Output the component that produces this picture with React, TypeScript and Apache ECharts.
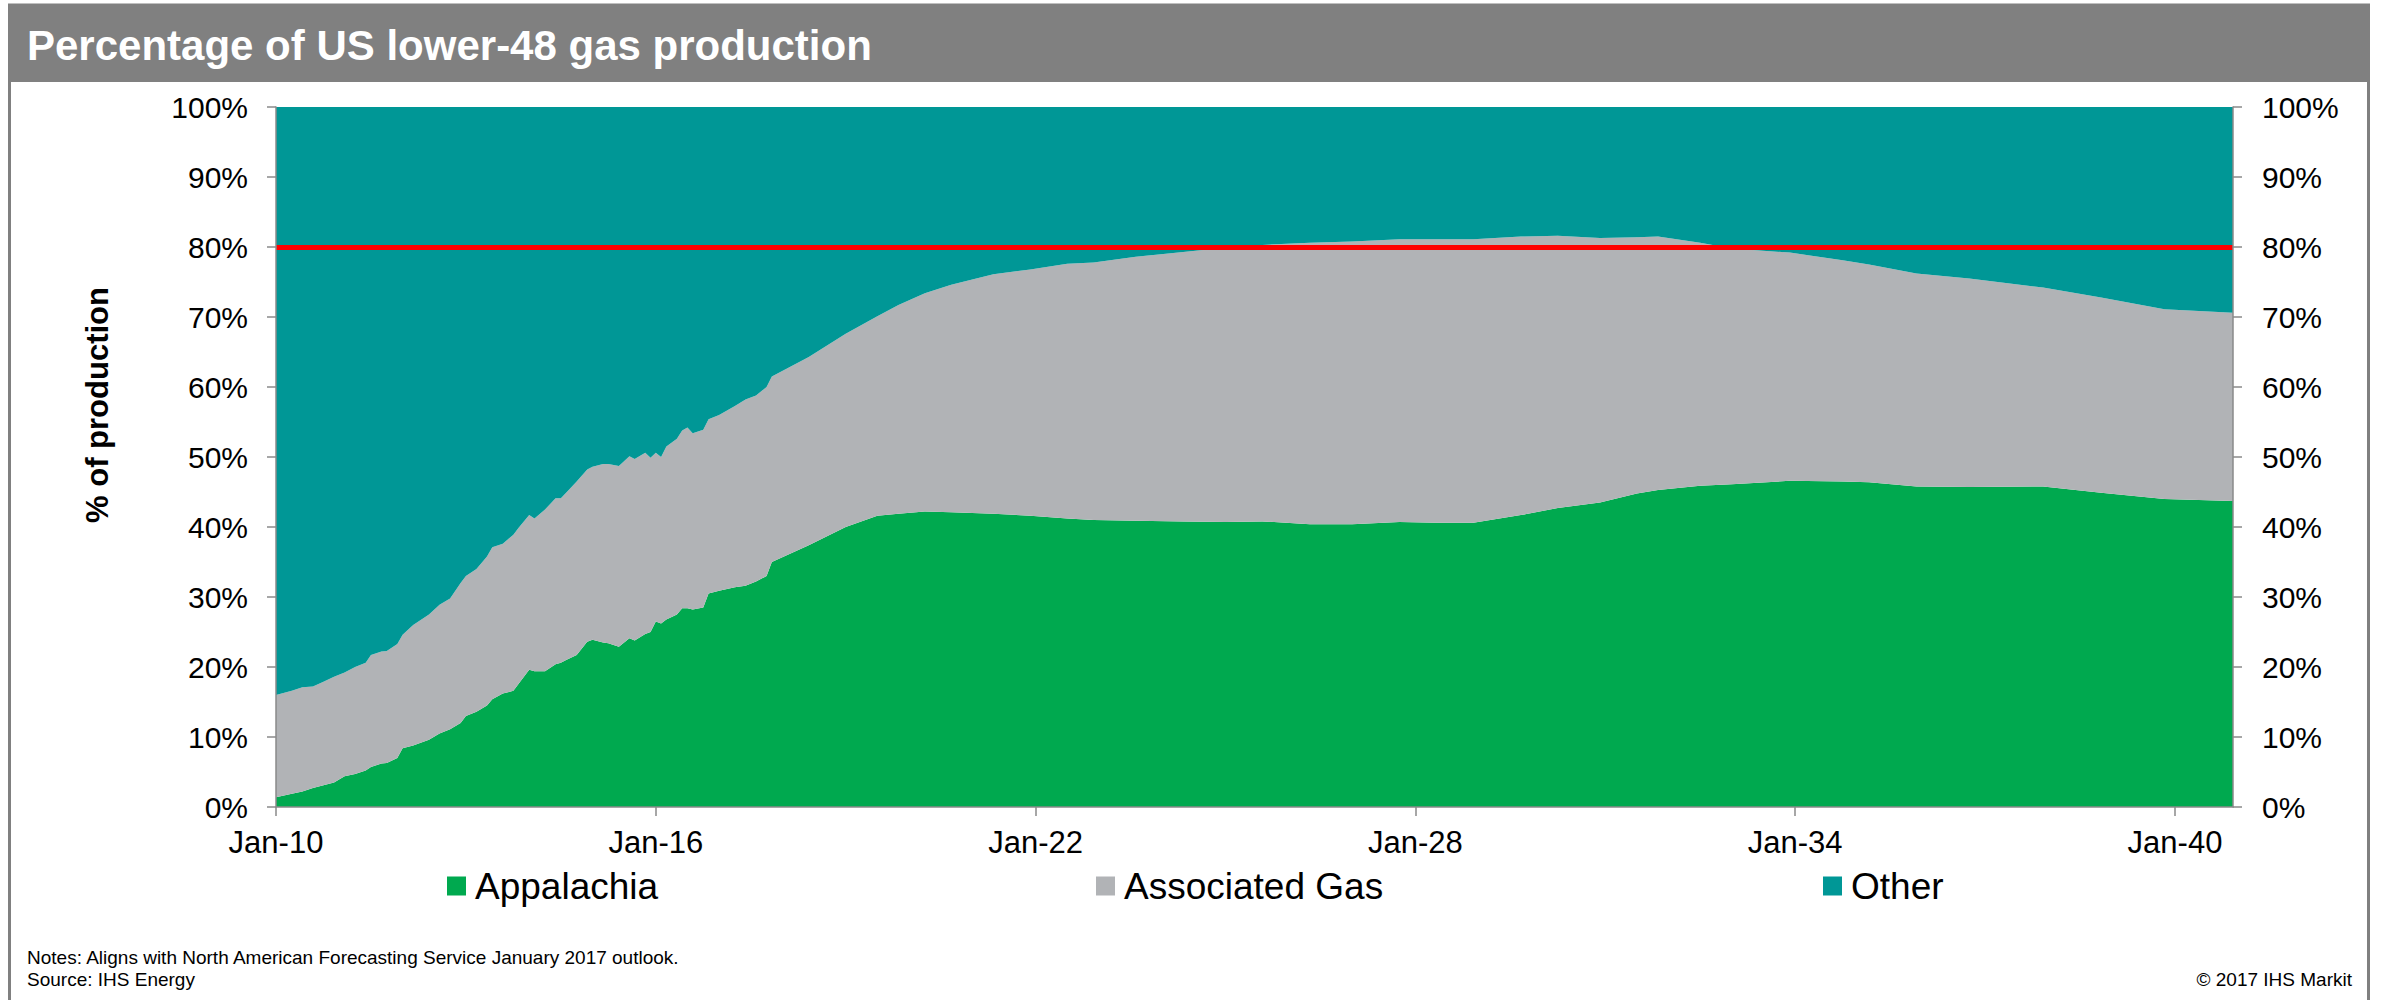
import { useEffect, useRef } from 'react';
import * as echarts from 'echarts';

const FONT = '"Liberation Sans", Arial, Helvetica, sans-serif';

// Months elapsed since Jan 2010 at each sampled point of the forecast
const monthOffsets = [
  0, 3, 5, 7, 9, 11, 13, 15, 17, 18, 20, 21, 23, 24, 26, 29, 31, 33, 35, 36,
  38, 40, 41, 43, 45, 46, 48, 49, 51, 53, 54, 55, 57, 59, 60, 62, 63, 65, 67, 68,
  70, 71, 72, 73, 74, 76, 77, 78, 79, 81, 82, 84, 87, 89, 91, 93, 94, 101, 108, 114,
  118, 123, 128, 136, 143, 150, 155, 163, 172, 180, 187, 196, 204, 213, 220, 227, 236, 243, 251, 258,
  262, 270, 276, 287, 297, 302, 311, 321, 335, 346, 358, 371,
];

// Share of lower-48 production (%) by source
const appalachia = [
  1.4, 1.9, 2.2, 2.7, 3.1, 3.5, 4.4, 4.7, 5.2, 5.7, 6.2, 6.3, 7.0, 8.4, 8.8, 9.6, 10.5, 11.1, 12.0, 13.0,
  13.6, 14.5, 15.4, 16.2, 16.6, 17.6, 19.6, 19.4, 19.4, 20.4, 20.6, 21.0, 21.7, 23.6, 23.9, 23.5, 23.4, 22.9, 24.1, 23.8,
  24.7, 25.0, 26.5, 26.2, 26.8, 27.5, 28.4, 28.4, 28.2, 28.5, 30.5, 30.9, 31.4, 31.6, 32.2, 33.0, 35.0, 37.4, 40.0, 41.6,
  41.9, 42.2, 42.1, 41.9, 41.6, 41.2, 41.0, 40.9, 40.8, 40.7, 40.8, 40.4, 40.4, 40.7, 40.6, 40.6, 41.7, 42.7, 43.5, 44.8,
  45.3, 45.9, 46.1, 46.6, 46.5, 46.4, 45.8, 45.7, 45.8, 44.9, 44.0, 43.7,
];
const associatedGas = [
  14.6, 14.7, 14.9, 14.5, 14.8, 15.1, 14.8, 15.3, 15.4, 16.0, 16.0, 16.0, 16.3, 16.2, 17.2, 17.9, 18.4, 18.7, 20.0, 20.0,
  20.4, 21.3, 21.7, 21.4, 22.3, 22.3, 22.1, 21.8, 23.1, 23.7, 23.5, 23.9, 24.8, 24.6, 24.7, 25.5, 25.6, 25.8, 26.0, 25.9,
  25.9, 24.9, 24.1, 23.8, 24.7, 25.1, 25.4, 25.8, 25.2, 25.4, 24.9, 25.1, 25.9, 26.6, 26.6, 27.0, 26.5, 26.9, 27.6, 28.5,
  29.8, 31.2, 32.5, 34.2, 35.2, 36.4, 36.8, 37.7, 38.5, 39.2, 39.5, 40.2, 40.4, 40.4, 40.5, 40.5, 39.8, 38.9, 37.8, 36.6,
  36.2, 34.7, 33.7, 32.6, 31.6, 31.1, 30.4, 29.8, 28.4, 27.9, 27.1, 26.9,
];
const other = [
  84.0, 83.4, 82.9, 82.8, 82.1, 81.4, 80.8, 80.0, 79.4, 78.3, 77.8, 77.7, 76.7, 75.4, 74.0, 72.5, 71.1, 70.2, 68.0, 67.0,
  66.0, 64.2, 62.9, 62.4, 61.1, 60.1, 58.3, 58.8, 57.5, 55.9, 55.9, 55.1, 53.5, 51.8, 51.4, 51.0, 51.0, 51.3, 49.9, 50.3,
  49.4, 50.1, 49.4, 50.0, 48.5, 47.4, 46.2, 45.8, 46.6, 46.1, 44.6, 44.0, 42.7, 41.8, 41.2, 40.0, 38.5, 35.7, 32.4, 29.9,
  28.3, 26.6, 25.4, 23.9, 23.2, 22.4, 22.2, 21.4, 20.7, 20.1, 19.7, 19.4, 19.2, 18.9, 18.9, 18.9, 18.5, 18.4, 18.7, 18.6,
  18.5, 19.4, 20.2, 20.8, 21.9, 22.5, 23.8, 24.5, 25.8, 27.2, 28.9, 29.4,
];

const seriesNames = ['Appalachia', 'Associated Gas', 'Other'];
const seriesColors = ['#00A94F', '#B1B3B6', '#009796'];

// X axis runs in months since Jan 2010; labelled every six years
const xTickMonths = [0, 72, 144, 216, 288, 360];
const xTickLabels = ['Jan-10', 'Jan-16', 'Jan-22', 'Jan-28', 'Jan-34', 'Jan-40'];
const lastMonth = 371;

const thresholdShare = 80;

const titleText = 'Percentage of US lower-48 gas production';
const yAxisTitle = '% of production';
const noteLines = [
  'Notes: Aligns with North American Forecasting Service January 2017 outlook.',
  'Source: IHS Energy',
];
const copyrightText = '\u00A9 2017 IHS Markit';

const AXIS_GRAY = '#8A8A8A';
const legendLefts = [447, 1096, 1823];

// Rows are [share, month]: the share comes first so the stack runs along y
const toRows = (values: number[]) => monthOffsets.map((m, i) => [values[i], m]);

function buildYAxis(position: 'left' | 'right', margin: number) {
  return {
    type: 'value',
    position,
    min: 0,
    max: 100,
    interval: 10,
    z: 5,
    axisLine: { show: true, lineStyle: { color: AXIS_GRAY, width: 1.5 } },
    axisTick: { show: true, length: 9, lineStyle: { color: AXIS_GRAY, width: 1.5 } },
    axisLabel: {
      formatter: '{value}%',
      fontSize: 30,
      fontFamily: FONT,
      color: '#000',
      margin,
    },
    splitLine: { show: false },
  };
}

export default function App() {
  const ref = useRef<HTMLDivElement>(null);

  useEffect(() => {
    if (!ref.current) return;
    const chart = echarts.init(ref.current, null, { renderer: 'svg' });

    const seriesValues = [appalachia, associatedGas, other];

    const option: any = {
      animation: false,
      backgroundColor: '#fff',
      grid: { left: 276, top: 107, width: 1957, height: 700, outerBoundsMode: 'none' },
      xAxis: {
        type: 'value',
        min: 0,
        max: lastMonth,
        z: 5,
        axisLine: { show: true, lineStyle: { color: AXIS_GRAY, width: 1.5 } },
        axisTick: {
          show: true,
          length: 9,
          customValues: xTickMonths,
          lineStyle: { color: AXIS_GRAY, width: 1.5 },
        },
        axisLabel: {
          customValues: xTickMonths,
          formatter: (v: number) => {
            const i = xTickMonths.indexOf(Math.round(v));
            return i >= 0 ? xTickLabels[i] : '';
          },
          fontSize: 31,
          fontFamily: FONT,
          color: '#000',
          margin: 20,
        },
        splitLine: { show: false },
      },
      yAxis: [buildYAxis('left', 28), buildYAxis('right', 29)],
      legend: seriesNames.map((name, i) => ({
        data: [name],
        left: legendLefts[i],
        top: 866,
        padding: 0,
        icon: 'rect',
        itemWidth: 19,
        itemHeight: 19,
        selectedMode: false,
        textStyle: {
          fontSize: 37,
          fontFamily: FONT,
          color: '#000',
          lineHeight: 40,
          padding: [0, 0, 0, 4],
        },
      })),
      series: seriesNames.map((name, i) => ({
        name,
        type: 'line',
        stack: 'share',
        dimensions: ['share', 'month'],
        encode: { x: 'month', y: 'share' },
        data: toRows(seriesValues[i]),
        showSymbol: false,
        symbol: 'none',
        color: seriesColors[i],
        lineStyle: { width: 0, color: seriesColors[i] },
        areaStyle: { color: seriesColors[i], opacity: 1 },
        emphasis: { disabled: true },
        silent: true,
        ...(i === seriesNames.length - 1
          ? {
              markLine: {
                silent: true,
                symbol: 'none',
                label: { show: false },
                lineStyle: { color: '#FF0000', width: 5, type: 'solid' },
                data: [{ yAxis: thresholdShare }],
              },
            }
          : {}),
      })),
      graphic: [
        {
          type: 'rect',
          silent: true,
          z: 0,
          shape: { x: 9.5, y: 5, width: 2359, height: 1100 },
          style: { fill: 'none', stroke: '#808080', lineWidth: 3 },
        },
        {
          type: 'rect',
          silent: true,
          z: 1,
          shape: { x: 8, y: 5, width: 2362, height: 77 },
          style: { fill: '#808080' },
        },
        {
          type: 'text',
          silent: true,
          z: 2,
          x: 27,
          y: 45,
          style: {
            text: titleText,
            fill: '#fff',
            fontSize: 42,
            fontWeight: 'bold',
            fontFamily: FONT,
            align: 'left',
            verticalAlign: 'middle',
          },
        },
        {
          type: 'text',
          silent: true,
          x: 97,
          y: 405,
          rotation: Math.PI / 2,
          style: {
            text: yAxisTitle,
            fill: '#000',
            fontSize: 31,
            fontWeight: 'bold',
            fontFamily: FONT,
            align: 'center',
            verticalAlign: 'middle',
          },
        },
        ...noteLines.map((line, i) => ({
          type: 'text',
          silent: true,
          x: 27,
          y: 957 + i * 22,
          style: {
            text: line,
            fill: '#000',
            fontSize: 19,
            fontFamily: FONT,
            align: 'left',
            verticalAlign: 'middle',
          },
        })),
        {
          type: 'text',
          silent: true,
          x: 2352,
          y: 979,
          style: {
            text: copyrightText,
            fill: '#000',
            fontSize: 19,
            fontFamily: FONT,
            align: 'right',
            verticalAlign: 'middle',
          },
        },
      ],
    };

    chart.setOption(option);
    return () => chart.dispose();
  }, []);

  return (
    <div
      ref={ref}
      style={{ position: 'fixed', left: 0, top: 0, width: 2383, height: 1000, background: '#fff' }}
    />
  );
}
